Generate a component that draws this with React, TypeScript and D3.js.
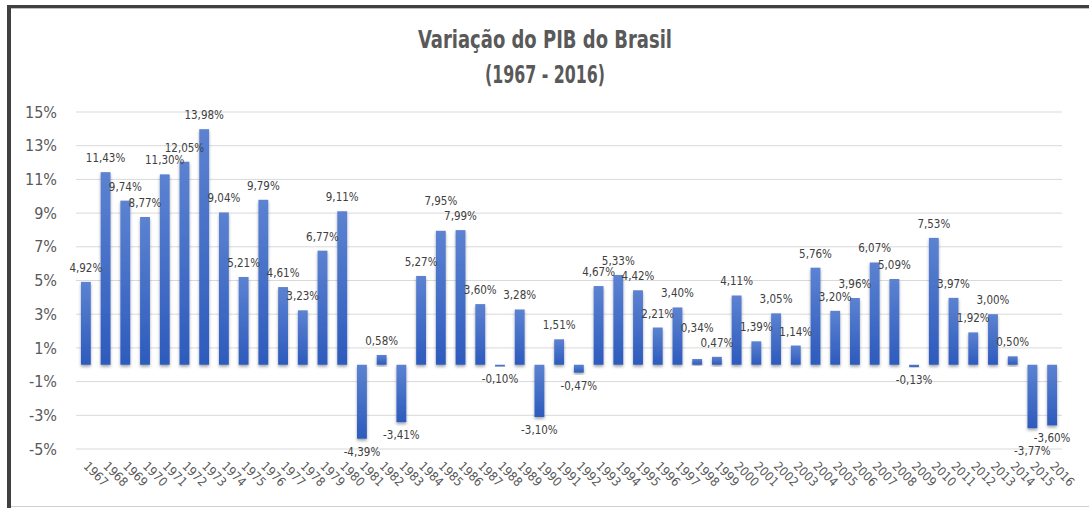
import React, { useEffect, useRef } from 'react';
import * as d3 from 'd3';

const years = [
  '1967', '1968', '1969', '1970', '1971', '1972', '1973', '1974', '1975', '1976',
  '1977', '1978', '1979', '1980', '1981', '1982', '1983', '1984', '1985', '1986',
  '1987', '1988', '1989', '1990', '1991', '1992', '1993', '1994', '1995', '1996',
  '1997', '1998', '1999', '2000', '2001', '2002', '2003', '2004', '2005', '2006',
  '2007', '2008', '2009', '2010', '2011', '2012', '2013', '2014', '2015', '2016',
];

const gdpGrowth = [
  4.92, 11.43, 9.74, 8.77, 11.30, 12.05, 13.98, 9.04, 5.21, 9.79,
  4.61, 3.23, 6.77, 9.11, -4.39, 0.58, -3.41, 5.27, 7.95, 7.99,
  3.60, -0.10, 3.28, -3.10, 1.51, -0.47, 4.67, 5.33, 4.42, 2.21,
  3.40, 0.34, 0.47, 4.11, 1.39, 3.05, 1.14, 5.76, 3.20, 3.96,
  6.07, 5.09, -0.13, 7.53, 3.97, 1.92, 3.00, 0.50, -3.77, -3.60,
];

const yTicks = [15, 13, 11, 9, 7, 5, 3, 1, -1, -3, -5];

const titleLines = ['Variação do PIB do Brasil', '(1967 - 2016)'];

const FONT = '"DejaVu Sans Condensed", "DejaVu Sans", sans-serif';
const fmt = (v: number) => v.toFixed(2).replace('.', ',') + '%';

const App = () => {
  const ref = useRef<SVGSVGElement | null>(null);

  useEffect(() => {
    if (!ref.current) return;
    const W = 1089;
    const H = 508;
    const svg = d3.select(ref.current);
    svg.selectAll('*').remove();

    const margin = { top: 112, right: 27, bottom: 59, left: 76 };

    const defs = svg.append('defs');
    const grad = defs.append('linearGradient')
      .attr('id', 'barGrad')
      .attr('x1', 0).attr('y1', 0).attr('x2', 0).attr('y2', 1);
    grad.append('stop').attr('offset', '0%').attr('stop-color', '#5c82d1');
    grad.append('stop').attr('offset', '100%').attr('stop-color', '#2d5bbd');

    const shadow = defs.append('filter')
      .attr('id', 'barShadow')
      .attr('x', '-50%').attr('y', '-20%').attr('width', '200%').attr('height', '140%');
    shadow.append('feDropShadow')
      .attr('dx', 0).attr('dy', 2).attr('stdDeviation', 1.6)
      .attr('flood-color', '#000').attr('flood-opacity', 0.35);

    // background and frame
    svg.append('rect').attr('width', W).attr('height', H).attr('fill', '#fff');
    svg.append('rect').attr('x', 7).attr('y', 5).attr('width', W - 7).attr('height', 3).attr('fill', '#404040');
    svg.append('rect').attr('x', 7).attr('y', 5).attr('width', 4).attr('height', H - 5).attr('fill', '#404040');
    svg.append('rect').attr('x', 11).attr('y', 8).attr('width', W - 11).attr('height', 1).attr('fill', '#bfbfbf');
    svg.append('rect').attr('x', 11).attr('y', 506).attr('width', W - 11).attr('height', 1).attr('fill', '#d0d0d0');

    // title (narrow face squeezed to Calibri-like width)
    const titleWidths = [254, 120];
    svg.append('g')
      .selectAll('text')
      .data(titleLines)
      .enter()
      .append('text')
      .attr('x', 545)
      .attr('y', (d, i) => 48 + i * 35)
      .attr('text-anchor', 'middle')
      .attr('font-family', FONT)
      .attr('font-size', 24)
      .attr('font-weight', 'bold')
      .attr('fill', '#595959')
      .attr('textLength', (d, i) => titleWidths[i])
      .attr('lengthAdjust', 'spacingAndGlyphs')
      .text(d => d);

    const x = d3.scaleBand()
      .domain(years)
      .range([margin.left, W - margin.right])
      .paddingInner(0.5)
      .paddingOuter(0.25);

    const y = d3.scaleLinear()
      .domain([-5, 15])
      .range([449, margin.top]);

    // gridlines
    svg.append('g')
      .selectAll('line')
      .data(yTicks)
      .enter()
      .append('line')
      .attr('x1', margin.left)
      .attr('x2', W - margin.right)
      .attr('y1', d => y(d))
      .attr('y2', d => y(d))
      .attr('stroke', '#d9d9d9')
      .attr('stroke-width', 1);

    // y axis
    const yAxis = svg.append('g')
      .attr('transform', `translate(${margin.left - 19},0)`)
      .call(d3.axisLeft(y).tickValues(yTicks).tickSize(0).tickPadding(0).tickFormat(d => `${d}%`));
    yAxis.select('.domain').remove();
    yAxis.selectAll('text')
      .attr('font-family', FONT)
      .attr('font-size', 16)
      .attr('fill', '#595959');

    // bars
    svg.append('g')
      .selectAll('rect')
      .data(gdpGrowth)
      .enter()
      .append('rect')
      .attr('x', (d, i) => x(years[i]) as number)
      .attr('y', d => y(Math.max(0, d)))
      .attr('width', x.bandwidth())
      .attr('height', d => Math.max(1.5, Math.abs(y(d) - y(0))))
      .attr('fill', 'url(#barGrad)')
      .attr('filter', 'url(#barShadow)');

    // data labels, nudged apart when two neighbours sit at almost the same height
    const labelY = gdpGrowth.map(d => (d >= 0 ? y(d) - 10 : y(d) + 17));
    for (let i = gdpGrowth.length - 2; i >= 0; i--) {
      const same = Math.sign(gdpGrowth[i]) === Math.sign(gdpGrowth[i + 1]);
      if (same && Math.abs(labelY[i] - labelY[i + 1]) < 6) {
        if (gdpGrowth[i] >= 0) labelY[i] = labelY[i + 1] - 15;
        else labelY[i] = labelY[i + 1] + 13;
      }
    }

    svg.append('g')
      .selectAll('text')
      .data(gdpGrowth)
      .enter()
      .append('text')
      .attr('x', (d, i) => (x(years[i]) as number) + x.bandwidth() / 2)
      .attr('y', (d, i) => labelY[i])
      .attr('text-anchor', 'middle')
      .attr('font-family', FONT)
      .attr('font-size', 11.5)
      .attr('fill', '#404040')
      .text(d => fmt(d));

    // x axis labels
    svg.append('g')
      .selectAll('text')
      .data(years)
      .enter()
      .append('text')
      .attr('transform', d => `translate(${(x(d) as number) + x.bandwidth() / 2 - 3},${467}) rotate(45)`)
      .attr('font-family', FONT)
      .attr('font-size', 12.5)
      .attr('fill', '#595959')
      .text(d => d);
  }, []);

  return (
    <div style={{ position: 'absolute', left: 0, top: 0 }}>
      <svg ref={ref} width={1089} height={508} />
    </div>
  );
};

export default App;
